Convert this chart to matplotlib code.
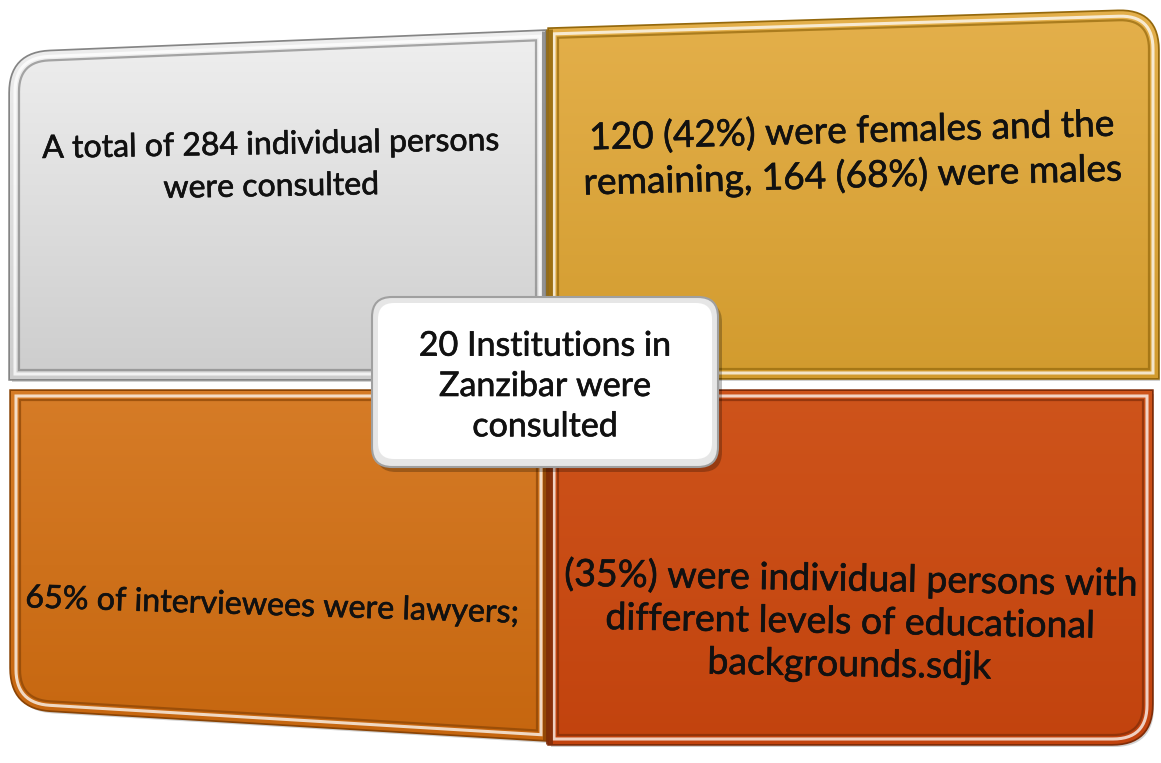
import numpy as np
import matplotlib
matplotlib.use("Agg")
import matplotlib.pyplot as plt
import matplotlib.patheffects as pe
from matplotlib.patches import Polygon, FancyBboxPatch
from matplotlib.colors import to_rgb

plt.rcParams['font.family'] = ['Lato', 'DejaVu Sans']

# diagram content
quad_texts = [
    "A total of 284 individual persons\nwere consulted",
    "120 (42%) were females and the\nremaining, 164 (68%) were males",
    "65% of interviewees were lawyers;",
    "(35%) were individual persons with\ndifferent levels of educational\nbackgrounds.sdjk",
]
center_text = "20 Institutions in\nZanzibar were\nconsulted"
quad_top = ['#efefef', '#e4b04b', '#d67c27', '#ce541b']
quad_bottom = ['#cdcdcd', '#d29b2e', '#c6660f', '#c2430e']
quad_edge = ['#858585', '#94680c', '#8a4405', '#7f2c08']

# layout (pixel space, y down): corners TL, TR, BR, BL and rounded corner index
quad_corners = [
    [(10, 53), (545, 31), (545, 379), (10, 379)],
    [(549, 29), (1158, 10), (1158, 378), (549, 378)],
    [(11, 391), (546, 391), (546, 740), (11, 708)],
    [(549, 391), (1152, 391), (1152, 744), (549, 744)],
]
round_idx = [0, 1, 3, 2]
inner_edge = [1, 3, 1, 3]          # edge that faces the middle divider
text_pos = [(271, 166), (852, 154), (272, 606), (850, 622)]
text_width = [458, 540, 495, 575]
text_rot = [1.0, 1.5, -1.8, -1.0]
line_sp = [1.5, 1.36, 1.3, 1.36]

W, H = 1161, 763
fig = plt.figure(figsize=(W / 100, H / 100), dpi=100)
ax = fig.add_axes([0, 0, 1, 1])
ax.set_xlim(0, W)
ax.set_ylim(H, 0)
ax.axis('off')

bold = [pe.withStroke(linewidth=0.45, foreground='#111111')]


def rounded_poly(pts, ridx, r=40, n=16):
    pts = np.array(pts, float)
    out = []
    for i, p in enumerate(pts):
        if i != ridx:
            out.append(p)
            continue
        a = pts[i - 1] - p
        b = pts[(i + 1) % 4] - p
        a = a / np.hypot(*a)
        b = b / np.hypot(*b)
        p0, p2 = p + r * a, p + r * b
        for t in np.linspace(0, 1, n):
            out.append((1 - t) ** 2 * p0 + 2 * t * (1 - t) * p + t ** 2 * p2)
    return np.array(out)


def inset(pts, d):
    pts = np.array(pts, float)
    res = []
    for i, p in enumerate(pts):
        a = pts[i - 1] - p
        b = pts[(i + 1) % 4] - p
        res.append(p + d * a / np.hypot(*a) + d * b / np.hypot(*b))
    return res


def gradient(c1, c2, n=256):
    c1, c2 = np.array(to_rgb(c1)), np.array(to_rgb(c2))
    t = np.linspace(0, 1, n)[:, None]
    return (c1 * (1 - t) + c2 * t)[:, None, :]


renderer = fig.canvas.get_renderer()

for k in range(4):
    corners = quad_corners[k]
    outer = rounded_poly(corners, round_idx[k])
    xs, ys = outer[:, 0], outer[:, 1]
    # drop shadow
    ax.add_patch(Polygon(outer + [2, 3], closed=True, fc='#000000', ec='none',
                         alpha=0.18, zorder=1))
    base = Polygon(outer, closed=True, fc=quad_bottom[k], ec=quad_edge[k],
                   lw=2.5, zorder=2)
    ax.add_patch(base)
    im = ax.imshow(gradient(quad_top[k], quad_bottom[k]),
                   extent=[xs.min(), xs.max(), ys.max(), ys.min()],
                   aspect='auto', zorder=2.5, interpolation='bilinear')
    im.set_clip_path(base)
    # bevel frame
    hi = rounded_poly(inset(corners, 5), round_idx[k], r=34)
    ax.add_patch(Polygon(hi, closed=True, fc='none', ec='white', lw=2.2,
                         alpha=0.75, zorder=3))
    lo = rounded_poly(inset(corners, 9), round_idx[k], r=30)
    ax.add_patch(Polygon(lo, closed=True, fc='none', ec=quad_edge[k], lw=1.6,
                         alpha=0.7, zorder=3))
    # shaded side along the middle divider
    e = inner_edge[k]
    p, q = np.array(corners[e]), np.array(corners[(e + 1) % 4])
    ax.plot([p[0], q[0]], [p[1], q[1]], color=quad_edge[k], lw=5,
            solid_capstyle='butt', alpha=0.85, zorder=3.5)

    t = ax.text(text_pos[k][0], text_pos[k][1], quad_texts[k], ha='center',
                va='center', multialignment='center', fontsize=20,
                rotation_mode='anchor', linespacing=line_sp[k],
                color='#111111', zorder=6, path_effects=bold)
    lw_ = max(renderer.get_text_width_height_descent(s, t.get_fontproperties(), False)[0]
              for s in quad_texts[k].split('\n'))
    t.set_fontsize(20 * text_width[k] / lw_)
    t.set_rotation(text_rot[k])

# centre box
ax.add_patch(FancyBboxPatch((376, 302), 346, 170,
                            boxstyle='round,pad=0,rounding_size=20',
                            fc='black', ec='none', alpha=0.25, zorder=7))
ax.add_patch(FancyBboxPatch((372, 297), 346, 170,
                            boxstyle='round,pad=0,rounding_size=20',
                            fc='#e6e6e6', ec='#a0a0a0', lw=1.5, zorder=8))
ax.add_patch(FancyBboxPatch((378, 303), 334, 156,
                            boxstyle='round,pad=0,rounding_size=16',
                            fc='white', ec='none', zorder=8.5))
tc = ax.text(545, 386, center_text, ha='center', va='center',
             multialignment='center', fontsize=20, linespacing=1.32,
             color='#111111', zorder=9, path_effects=bold)
cw = max(renderer.get_text_width_height_descent(s, tc.get_fontproperties(), False)[0]
         for s in center_text.split('\n'))
tc.set_fontsize(20 * 253 / cw)

fig.savefig('out.png', dpi=100, facecolor='white')
